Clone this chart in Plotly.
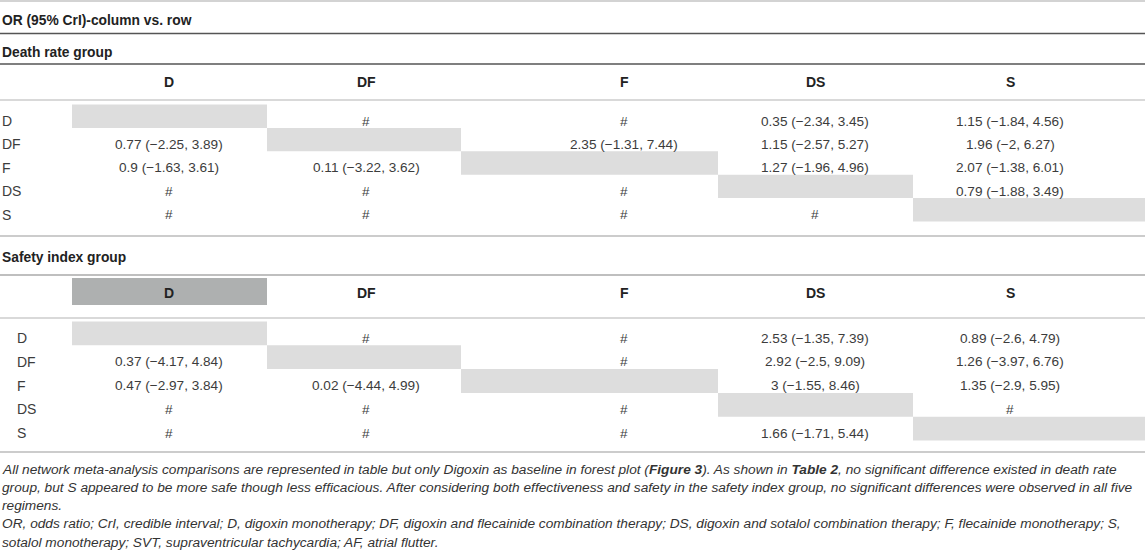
import plotly.graph_objects as go

# %%
# Table data
regimens = ["D", "DF", "F", "DS", "S"]

death_rate = [
    ["", "#", "#", "0.35 (−2.34, 3.45)", "1.15 (−1.84, 4.56)"],
    ["0.77 (−2.25, 3.89)", "", "2.35 (−1.31, 7.44)", "1.15 (−2.57, 5.27)", "1.96 (−2, 6.27)"],
    ["0.9 (−1.63, 3.61)", "0.11 (−3.22, 3.62)", "", "1.27 (−1.96, 4.96)", "2.07 (−1.38, 6.01)"],
    ["#", "#", "#", "", "0.79 (−1.88, 3.49)"],
    ["#", "#", "#", "#", ""],
]

safety_index = [
    ["", "#", "#", "2.53 (−1.35, 7.39)", "0.89 (−2.6, 4.79)"],
    ["0.37 (−4.17, 4.84)", "", "#", "2.92 (−2.5, 9.09)", "1.26 (−3.97, 6.76)"],
    ["0.47 (−2.97, 3.84)", "0.02 (−4.44, 4.99)", "", "3 (−1.55, 8.46)", "1.35 (−2.9, 5.95)"],
    ["#", "#", "#", "", "#"],
    ["#", "#", "#", "1.66 (−1.71, 5.44)", ""],
]

title = "OR (95% CrI)-column vs. row"
groups = ["Death rate group", "Safety index group"]

footnotes = [
    "All network meta-analysis comparisons are represented in table but only Digoxin as baseline in forest plot (<b>Figure 3</b>). As shown in <b>Table 2</b>, no significant difference existed in death rate",
    "group, but S appeared to be more safe though less efficacious. After considering both effectiveness and safety in the safety index group, no significant differences were observed in all five",
    "regimens.",
    "OR, odds ratio; CrI, credible interval; D, digoxin monotherapy; DF, digoxin and flecainide combination therapy; DS, digoxin and sotalol combination therapy; F, flecainide monotherapy; S,",
    "sotalol monotherapy; SVT, supraventricular tachycardia; AF, atrial flutter.",
]

# %%
# Layout (pixel grid)
W, H = 1145, 558
col_text_x = [169, 366, 624, 815, 1010]
col_edges = [72, 267, 461, 718, 913, 1145]
FONT = "Liberation Sans"
TXT = "#3c3c3c"
LIGHT = "#dddddd"
DARK_FILL = "#aeb0b0"

blocks = [
    dict(data=death_rate, group_y=52, header_y=82, row0=121, pitch=23.4,
         label_x=0, lines=[(64, "#555555"), (100, "#cccccc"), (236, "#bbbbbb")],
         highlight=False),
    dict(data=safety_index, group_y=257, header_y=293, row0=338, pitch=23.8,
         label_x=15, lines=[(275, "#aaaaaa"), (318, "#cccccc"), (452, "#bbbbbb")],
         highlight=True),
]

fig = go.Figure()
shapes = []
annotations = []


def hline(y, color, width=1.6):
    shapes.append(dict(type="line", xref="x", yref="y", x0=0, x1=W, y0=y, y1=y,
                       line=dict(color=color, width=width), layer="above"))


def text(x, y, s, size=13, anchor="center", bold=False, italic=False, color=TXT):
    if bold:
        s = "<b>" + s + "</b>"
    if italic:
        s = "<i>" + s + "</i>"
    annotations.append(dict(x=x, y=y, xref="x", yref="y", text=s, showarrow=False,
                            xanchor=anchor, yanchor="middle",
                            font=dict(family=FONT, size=size, color=color)))


# top rules + title
hline(1, "#c4c4c4")
text(0, 20, title, size=13.8, anchor="left", bold=True, color="#222222")
hline(33.5, "#555555")

for gi, b in enumerate(blocks):
    text(0, b["group_y"], groups[gi], size=13.8, anchor="left", bold=True, color="#222222")
    if b["highlight"]:
        shapes.append(dict(type="rect", xref="x", yref="y", x0=col_edges[0], x1=col_edges[1],
                           y0=b["header_y"] - 15, y1=b["header_y"] + 12,
                           fillcolor=DARK_FILL, line=dict(width=0), layer="below"))
    for j, r in enumerate(regimens):
        text(col_text_x[j], b["header_y"], r, size=14, bold=True, color="#222222")
    for i, r in enumerate(regimens):
        yc = b["row0"] + i * b["pitch"]
        text(b["label_x"], yc, r, size=14, anchor="left")
        # diagonal cell
        shapes.append(dict(type="rect", xref="x", yref="y", x0=col_edges[i], x1=col_edges[i + 1],
                           y0=yc - 16.5, y1=yc - 16.5 + b["pitch"],
                           fillcolor=LIGHT, line=dict(width=0), layer="below"))
        for j, v in enumerate(b["data"][i]):
            if v:
                text(col_text_x[j], yc, v, size=13.6)
    for y, c in b["lines"]:
        hline(y, c)

foot_y0, foot_pitch = 469, 18.3
for k, line in enumerate(footnotes):
    text(0, foot_y0 + k * foot_pitch, line, size=13.7, anchor="left", italic=True, color="#333333")

fig.update_layout(
    width=W, height=H,
    margin=dict(l=0, r=0, t=0, b=0),
    paper_bgcolor="white", plot_bgcolor="white",
    xaxis=dict(range=[0, W], visible=False, fixedrange=True),
    yaxis=dict(range=[H, 0], visible=False, fixedrange=True),
    shapes=shapes, annotations=annotations,
    showlegend=False,
)
fig.write_html("out.html", config={"displayModeBar": False},
               post_script="document.body.style.margin='0';document.body.style.overflow='hidden';")
